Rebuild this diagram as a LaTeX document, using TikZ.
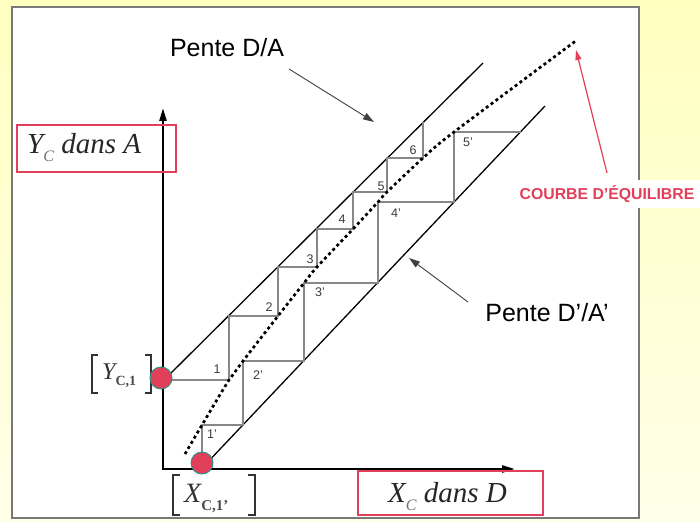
\documentclass[tikz,border=0pt]{standalone}
\usepackage{fontspec}
\setmainfont{Liberation Sans}
\newfontfamily\serifit{Liberation Serif}
\usetikzlibrary{arrows.meta}
\definecolor{crimson}{RGB}{226,64,90}
\definecolor{tealc}{RGB}{30,150,130}
\definecolor{stepgray}{RGB}{135,135,135}
\definecolor{panelgray}{RGB}{120,120,120}
\definecolor{labgray}{RGB}{60,60,60}
\definecolor{ytop}{RGB}{255,255,192}
\definecolor{ybot}{RGB}{255,255,232}
\tikzset{
  mainline/.style={black, line width=1.3pt},
  stepline/.style={stepgray, line width=1.2pt},
  axisline/.style={black, line width=2.4pt, {Triangle[width=7pt,length=13pt]}-{Triangle[width=7pt,length=13pt]}},
  eqcurve/.style={black, line width=2.7pt, dash pattern=on 3pt off 3pt},
  steplab/.style={text=labgray, font=\fontsize{12.5}{14}\selectfont, inner sep=0pt},
  redbox/.style={draw=crimson, line width=1.4pt},
  pointer/.style={black!75, line width=0.9pt, -{Triangle[width=7pt,length=11pt]}},
  redarrow/.style={crimson, line width=1.2pt, -{Triangle[width=6pt,length=10pt]}},
  dot/.style={circle, fill=crimson, draw=tealc, line width=0.9pt, minimum size=22pt, inner sep=0pt},
  bracket/.style={black!80, line width=1.4pt},
  pente/.style={font=\fontsize{25}{28}\selectfont, inner sep=0pt, anchor=base},
}
\begin{document}
\begin{tikzpicture}[x=1pt,y=-1pt]
\useasboundingbox (0,0) rectangle (700,521);
\shade[top color=ytop, bottom color=ybot] (0,0) rectangle (700,521);
\draw[draw=panelgray, line width=1.6pt, fill=white] (12,7) rectangle (639,518);

% coordinates
\coordinate (O) at (163,469);
\coordinate (Ytip) at (163,108);
\coordinate (Xtip) at (515,469);
\coordinate (UL0) at (166,378);
\coordinate (UL1) at (483,63);
\coordinate (LL0) at (204,466);
\coordinate (LL1) at (545,106);
% upper staircase
\coordinate (U0) at (163,380);
\coordinate (C1) at (229,380);
\coordinate (U1) at (229,316);
\coordinate (C2) at (278,316);
\coordinate (U2) at (278,267);
\coordinate (C3) at (317,267);
\coordinate (U3) at (317,229);
\coordinate (C4) at (353,229);
\coordinate (U4) at (353,192);
\coordinate (C5) at (387,192);
\coordinate (U5) at (387,158);
\coordinate (C6) at (423,158);
\coordinate (U6) at (423,122);
% lower staircase
\coordinate (L0) at (202,463);
\coordinate (D1) at (202,425);
\coordinate (L1) at (243,425);
\coordinate (D2) at (243,361);
\coordinate (L2) at (304,361);
\coordinate (D3) at (304,283);
\coordinate (L3) at (378,283);
\coordinate (D4) at (378,202);
\coordinate (L4) at (454,202);
\coordinate (D5) at (454,132);
\coordinate (L5) at (521,132);
\coordinate (Cbot) at (185,454);
\coordinate (Ctop) at (577,40);

% axes
\draw[axisline] (Ytip) -- (O) -- (Xtip);

% operating lines
\draw[mainline] (UL0) -- (UL1);
\draw[mainline] (LL0) -- (LL1);

% staircases
\draw[stepline] (U0) -- (C1) -- (U1) -- (C2) -- (U2) -- (C3) -- (U3) -- (C4) -- (U4) -- (C5) -- (U5) -- (C6) -- (U6);
\draw[stepline] (L0) -- (D1) -- (L1) -- (D2) -- (L2) -- (D3) -- (L3) -- (D4) -- (L4) -- (D5) -- (L5);

% equilibrium curve
\draw[eqcurve] plot[smooth, tension=0.55] coordinates {(Cbot) (D1) (C1) (D2) (C2) (D3) (C3) (C4) (D4) (C5) (C6) (D5) (Ctop)};

% step labels
\node[steplab] (n1) at (217,369) {1};
\node[steplab] (n2) at (269,307) {2};
\node[steplab] (n3) at (310,259) {3};
\node[steplab] (n4) at (342,219) {4};
\node[steplab] (n5) at (381,186) {5};
\node[steplab] (n6) at (413,150) {6};
\node[steplab] (p1) at (212,434) {1’};
\node[steplab] (p2) at (258,375) {2’};
\node[steplab] (p3) at (320,292) {3’};
\node[steplab] (p4) at (396,213) {4’};
\node[steplab] (p5) at (468,142) {5’};

% red boxes
\draw[redbox] (17,125) rectangle (176,172);
\draw[redbox] (358,471) rectangle (543,515);
\node[inner sep=0pt, anchor=base west, text=black!85] (ylab) at (27,154)
  {\serifit\itshape\fontsize{29}{32}\selectfont Y\raisebox{-8pt}{\fontsize{16}{18}\selectfont\color{black!55}C} dans A};
\node[inner sep=0pt, anchor=base west, text=black!85] (xlab) at (388,502)
  {\serifit\itshape\fontsize{29}{32}\selectfont X\raisebox{-8pt}{\fontsize{16}{18}\selectfont\color{black!55}C} dans D};

% brackets
\draw[bracket] (98,355) -- (92,355) -- (92,393) -- (98,393);
\draw[bracket] (145,355) -- (151,355) -- (151,393) -- (145,393);
\draw[bracket] (180,475) -- (173,475) -- (173,515) -- (180,515);
\draw[bracket] (248,475) -- (255,475) -- (255,515) -- (248,515);
\node[inner sep=0pt, anchor=base west, text=black!80] (yc1) at (102,379)
  {\serifit\itshape\fontsize{24}{26}\selectfont Y\raisebox{-6pt}{\upshape\bfseries\fontsize{14}{16}\selectfont\color{black!70}C,1}};
\node[inner sep=0pt, anchor=base west, text=black!80] (xc1) at (184,502)
  {\serifit\itshape\fontsize{28}{30}\selectfont X\raisebox{-8pt}{\upshape\bfseries\fontsize{15}{17}\selectfont\color{black!70}C,1’}};

% dots
\node[dot] (dy) at (161,378) {};
\node[dot] (dx) at (202,463) {};

% slope labels and pointers
\node[pente] (penteDA) at (227,57) {Pente D/A};
\coordinate (pa0) at (289,69);
\coordinate (pa1) at (374,122);
\draw[pointer] (pa0) -- (pa1);
\node[pente] (penteDpAp) at (547,321) {Pente D’/A’};
\coordinate (pb0) at (468,302);
\coordinate (pb1) at (409,258);
\draw[pointer] (pb0) -- (pb1);

% equilibrium label
\fill[white] (517,180) rectangle (700,208);
\node[inner sep=0pt, anchor=base, text=crimson, font=\bfseries\fontsize{15.8}{18}\selectfont] (eqlab) at (607,200) {COURBE D’ÉQUILIBRE};
\coordinate (ra0) at (607,173);
\coordinate (ra1) at (576,50);
\draw[redarrow] (ra0) -- (ra1);
\end{tikzpicture}
\end{document}
